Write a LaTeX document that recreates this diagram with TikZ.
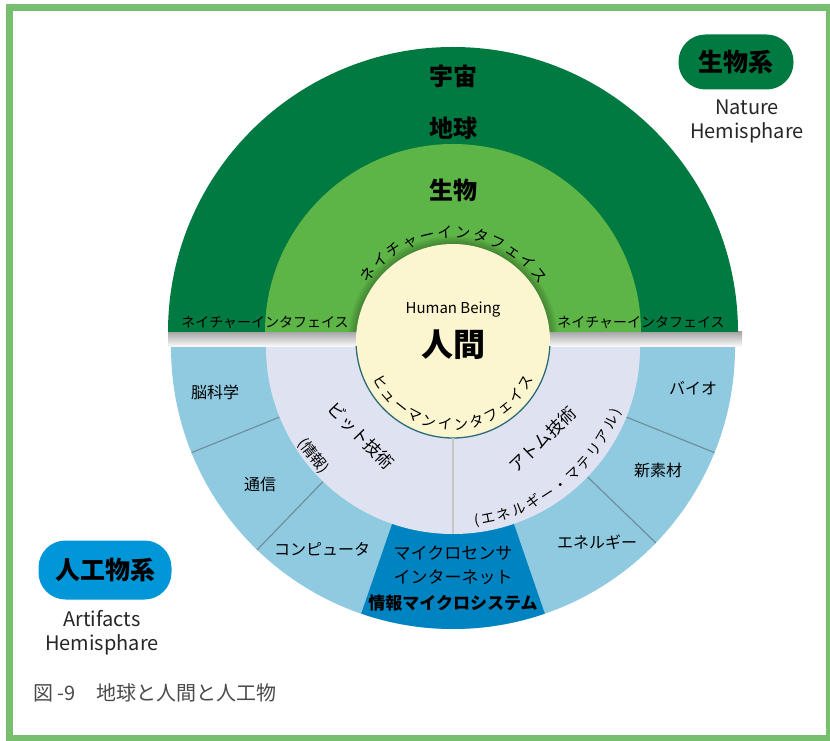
\documentclass[tikz,border=0pt]{standalone}
\usepackage{fontspec}
\setmainfont{Noto Sans CJK JP}
\usepackage{tikz}
\usetikzlibrary{decorations.text}

\definecolor{framegreen}{HTML}{77BF6E}
\definecolor{darkgreen}{HTML}{007A40}
\definecolor{lightgreen}{HTML}{5DB447}
\definecolor{cream}{HTML}{FCF6D0}
\definecolor{lavender}{HTML}{DFE3F1}
\definecolor{lightblue}{HTML}{8FCAE0}
\definecolor{darkblue}{HTML}{0084C1}
\definecolor{pillblue}{HTML}{0096D8}
\definecolor{divgrey}{HTML}{6F909E}
\definecolor{creamline}{HTML}{2D6B79}
\definecolor{captiongrey}{HTML}{4A4A4A}

\begin{document}
\begin{tikzpicture}[x=1pt,y=1pt,
    bigword/.style={font=\fontsize{24}{24}\selectfont\bfseries},
    ifword/.style={font=\fontsize{14}{14}\selectfont},
    field/.style={font=\fontsize{16}{16}\selectfont},
    tech/.style={font=\fontsize{17}{17}\selectfont},
    pill/.style={rounded corners=27pt, inner sep=0pt, font=\fontsize{25}{25}\selectfont\bfseries},
    hemi/.style={font=\fontsize{20}{24}\selectfont, align=center, text=black!85},
    divline/.style={draw=divgrey, line width=1.2pt}]

\useasboundingbox (0,0) rectangle (830,740);
\fill[white] (0,0) rectangle (830,740);

\coordinate (U) at (453,408);
\coordinate (L) at (453,393);
\coordinate (H) at (453,399);

% lower half
\fill[lightblue] (L) ++(-282,0) arc (180:360:282) -- cycle;
\fill[darkblue] ([shift={(251:187)}]L) -- ([shift={(251:282)}]L) arc (251:289:282)
    -- ([shift={(289:187)}]L) -- cycle;
\foreach \a in {202,226,316,338}
    \draw[divline] ([shift={(\a:187)}]L) -- ([shift={(\a:282)}]L);
\fill[lavender] (L) ++(-187,0) arc (180:360:187) -- cycle;

\shade[top color=black!35, bottom color=white] (168,408) rectangle (742,393);

% upper half
\fill[darkgreen] (U) ++(-285,0) arc (180:0:285) -- cycle;
\fill[lightgreen] (U) ++(-188,0) arc (180:0:188) -- cycle;

\begin{scope}
\clip (160,408) rectangle (750,740);
\foreach \k in {1,...,8}
    \fill[black,opacity=0.03] (H) circle [radius=97+\k];
\end{scope}

% human being
\fill[cream] (H) circle [radius=97];
\draw[creamline, line width=1.3pt] ([shift={(183:97)}]H) arc (183:357:97);
\draw[divline, draw=gray!45] ([shift={(270:97)}]H) -- ([shift={(270:187)}]L);

\path[decorate, decoration={text along path, text align={fit to path},
    text={|\fontsize{15}{15}\selectfont|ネイチャーインタフェイス}}]
    ([shift={(146:103)}]H) arc (146:33:103);
\path[decorate, decoration={text along path, text align={fit to path},
    text={|\fontsize{14.5}{14.5}\selectfont|ヒューマンインタフェイス}}]
    ([shift={(205:89)}]H) arc (205:335:89);
\path[decorate, decoration={text along path, text align={fit to path},
    text={|\fontsize{14}{14}\selectfont|(エネルギー・マテリアル)}}]
    ([shift={(-83:180)}]L) arc (-83:-21:180);

\node[bigword] (uchu) at (453,664) {宇宙};
\node[bigword] (chikyu) at (453,612) {地球};
\node[bigword] (seibutsu) at (453,550) {生物};
\node[ifword] (ifleft) at (265,418) {ネイチャーインタフェイス};
\node[ifword] (ifright) at (641,418) {ネイチャーインタフェイス};

\node[font=\fontsize{15}{15}\selectfont] (human) at (453,430) {Human Being};
\node[font=\fontsize{32}{32}\selectfont\bfseries] (ningen) at (453,395) {人間};

\node[tech, rotate=-46] (bit) at ([shift={(224:128)}]L) {ビット技術};
\node[font=\fontsize{15}{15}\selectfont, rotate=-52] (joho) at ([shift={(218:177)}]L) {(情報)};
\node[tech, rotate=44] (atom) at ([shift={(-46:129)}]L) {アトム技術};

\node[field] (nou) at (215,348) {脳科学};
\node[field] (tsushin) at (260,256) {通信};
\node[field] (computer) at (322,191) {コンピュータ};
\node[field] (bio) at (693,352) {バイオ};
\node[field] (sozai) at (658,270) {新素材};
\node[field] (energy) at (597,198) {エネルギー};

\node[tech] (sensor) at (453,187) {マイクロセンサ};
\node[tech] (internet) at (453,163) {インターネット};
\node[tech, font=\fontsize{17}{17}\selectfont\bfseries] (micro) at (453,137) {情報マイクロシステム};

% hemispheres
\node[pill, fill=darkgreen, minimum width=115pt, minimum height=55pt] (natpill) at (736,678) {生物系};
\node[hemi, below=1pt] (nathemi) at (747,645) {Nature\\Hemisphare};
\node[pill, fill=pillblue, minimum width=133pt, minimum height=59pt] (artpill) at (105,170) {人工物系};
\node[hemi, below=1pt] (arthemi) at (102,134) {Artifacts\\Hemisphare};

\node[anchor=west, font=\fontsize{20}{20}\selectfont, text=captiongrey] (caption) at (30,47) {図 -9　地球と人間と人工物};

\draw[framegreen, line width=7pt] (9.5,732.5) rectangle (829.5,1.5);

\end{tikzpicture}
\end{document}
